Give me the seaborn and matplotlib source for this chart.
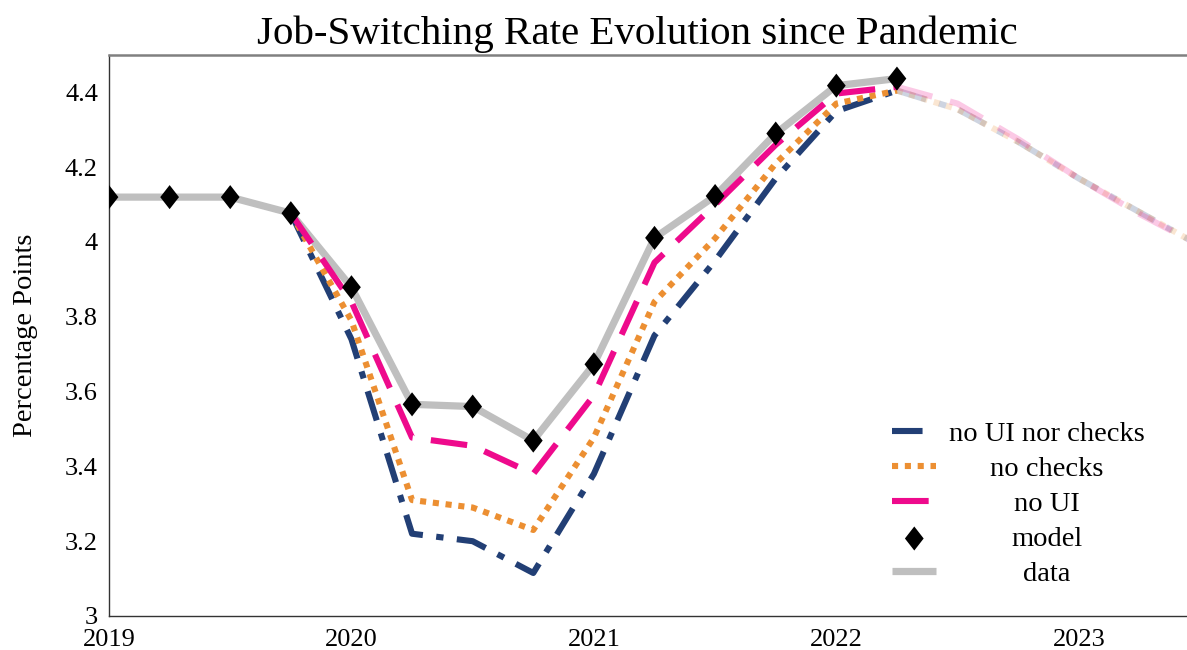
import matplotlib
matplotlib.use("Agg")
import matplotlib.pyplot as plt
import seaborn as sns
import pandas as pd

# quarters (year fractions)
quarters = [2019.0, 2019.25, 2019.5, 2019.75, 2020.0, 2020.25, 2020.5, 2020.75,
            2021.0, 2021.25, 2021.5, 2021.75, 2022.0, 2022.25]
data_rate = [4.12, 4.12, 4.12, 4.077, 3.879, 3.566, 3.56, 3.469,
             3.673, 4.011, 4.123, 4.29, 4.418, 4.437]
model_rate = data_rate

cf_quarters = [2019.75, 2020.0, 2020.25, 2020.5, 2020.75, 2021.0, 2021.25,
               2021.5, 2021.75, 2022.0, 2022.25]
no_ui_nor_checks = [4.077, 3.74, 3.22, 3.20, 3.115, 3.38, 3.75, 3.95, 4.17, 4.35, 4.405]
no_checks = [4.077, 3.79, 3.31, 3.29, 3.23, 3.477, 3.84, 4.01, 4.21, 4.37, 4.405]
no_ui = [4.077, 3.84, 3.477, 3.455, 3.38, 3.59, 3.945, 4.10, 4.26, 4.397, 4.415]

# projection beyond last observation (drawn faded)
proj_quarters = [2022.25, 2022.5, 2022.75, 2023.0, 2023.25, 2023.5]
proj_no_ui_nor_checks = [4.405, 4.355, 4.268, 4.17, 4.08, 3.99]
proj_no_checks = [4.405, 4.355, 4.268, 4.17, 4.08, 3.99]
proj_no_ui = [4.415, 4.37, 4.275, 4.17, 4.075, 3.99]

navy = "#223f75"
orange = "#ec8f32"
pink = "#ee0a8c"
gray = "#bfbfbf"

sns.set_style("white")
plt.rcParams["font.family"] = ["Liberation Serif", "DejaVu Serif"]
plt.rcParams["text.color"] = "black"
plt.rcParams["axes.labelcolor"] = "black"

fig = plt.figure(figsize=(11.87, 6.5), dpi=100)
ax = fig.add_axes([109 / 1187, 34 / 650, 1091 / 1187, 561 / 650])

series = [
    ("no UI nor checks", no_ui_nor_checks, proj_no_ui_nor_checks, navy, (5, 2.2, 1.2, 2.2)),
    ("no checks", no_checks, proj_no_checks, orange, (1, 1.1)),
    ("no UI", no_ui, proj_no_ui, pink, (6, 3)),
]

df_data = pd.DataFrame({"t": quarters, "v": data_rate})
sns.lineplot(data=df_data, x="t", y="v", ax=ax, color=gray, lw=5.2,
             solid_capstyle="butt", label="data", zorder=2)
h_data = ax.lines[-1]

handles = []
for name, vals, proj, col, dash in series:
    d = pd.DataFrame({"t": cf_quarters, "v": vals})
    sns.lineplot(data=d, x="t", y="v", ax=ax, color=col, lw=4.4, label=name, zorder=3)
    ln = ax.lines[-1]
    ln.set_dashes(dash)
    ln.set_dash_capstyle("butt")
    handles.append(ln)
    p = pd.DataFrame({"t": proj_quarters, "v": proj})
    sns.lineplot(data=p, x="t", y="v", ax=ax, color=col, lw=4.4, alpha=0.22, zorder=3)
    pl = ax.lines[-1]
    pl.set_dashes(dash)
    pl.set_dash_capstyle("butt")

diamond = [(0, 1), (0.78, 0), (0, -1), (-0.78, 0), (0, 1)]
df_model = pd.DataFrame({"t": quarters, "v": model_rate})
sns.scatterplot(data=df_model, x="t", y="v", ax=ax, marker=diamond, s=300,
                color="black", edgecolor="none", label="model", zorder=4)
h_model = ax.collections[-1]

ax.set_xlim(2019, 2023.5)
ax.set_ylim(3, 4.5)
ax.set_xticks([2019, 2020, 2021, 2022, 2023])
ax.set_xticklabels(["2019", "2020", "2021", "2022", "2023"])
ax.set_yticks([3, 3.2, 3.4, 3.6, 3.8, 4, 4.2, 4.4])
ax.set_yticklabels(["3", "3.2", "3.4", "3.6", "3.8", "4", "4.2", "4.4"])
ax.tick_params(axis="both", length=0, labelsize=19, colors="black")
ax.tick_params(axis="y", pad=8)
ax.tick_params(axis="x", pad=9)
ax.set_xlabel("")
ax.set_ylabel("Percentage Points", fontsize=20.5, labelpad=19, color="black")
ax.set_title("Job-Switching Rate Evolution since Pandemic", fontsize=29.5,
             x=(637 - 109) / 1091, pad=8, color="black")

for s in ["left", "bottom"]:
    ax.spines[s].set_color("#333333")
    ax.spines[s].set_linewidth(1.0)
ax.spines["top"].set_color("#808080")
ax.spines["top"].set_linewidth(1.8)
ax.spines["right"].set_visible(False)

leg = ax.legend(handles=handles + [h_model, h_data],
                labels=["no UI nor checks", "no checks", "no UI", "model", "data"],
                loc="lower right", bbox_to_anchor=(0.973, 0.006), frameon=False,
                fontsize=20.5, handlelength=1.55, labelspacing=0.32, handletextpad=0.45,
                markerscale=1.0)
for t in leg.get_texts():
    t.set_color("black")

# center legend labels within the text column
fig.canvas.draw()
texts = leg.get_texts()
widths = [t.get_window_extent().width for t in texts]
wmax = max(widths)
for t, w in zip(texts, widths):
    t.set_position(((wmax - w) / 2, 0))

fig.savefig("out.png", dpi=100)
